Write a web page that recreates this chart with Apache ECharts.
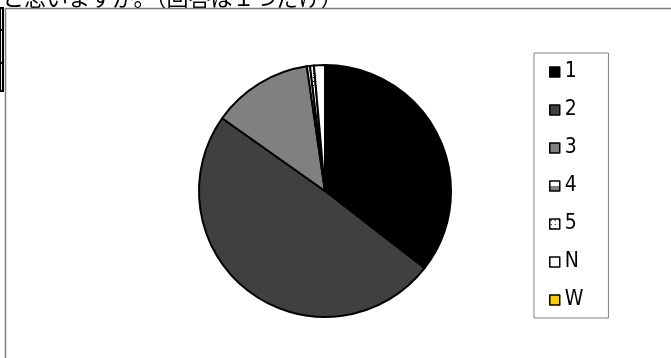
<!DOCTYPE html>
<html>
<head>
<meta charset="utf-8">
<script src="https://cdn.jsdelivr.net/npm/echarts@6/dist/echarts.min.js"></script>
<style>
  html, body { margin: 0; padding: 0; background: #fff; }
  #main { width: 671px; height: 358px; }
</style>
</head>
<body>
<div id="main"></div>
<script>
// 回答の区分と割合(%)
var categories = ['1', '2', '3', '4', '5', 'N', 'W'];
var values = [35.5, 49.3, 12.9, 0.4, 0.5, 1.4, 0];
var titleText = 'ると思いますか。（回答は１つだけ）';

// 5 の点模様
var dots = document.createElement('canvas');
dots.width = 4;
dots.height = 4;
var ctx = dots.getContext('2d');
ctx.fillStyle = '#fff';
ctx.fillRect(0, 0, 4, 4);
ctx.fillStyle = '#000';
ctx.fillRect(1, 1, 1, 1);

var colors = [
  '#000000',
  '#404040',
  '#808080',
  {
    type: 'linear', x: 0, y: 0, x2: 0, y2: 1,
    colorStops: [
      { offset: 0, color: '#ffffff' },
      { offset: 0.5, color: '#ffffff' },
      { offset: 0.5, color: '#808080' },
      { offset: 1, color: '#808080' }
    ]
  },
  { image: dots, repeat: 'repeat' },
  '#ffffff',
  '#ffcc00'
];

var myChart = echarts.init(document.getElementById('main'));

var data = [];
for (var i = 0; i < categories.length; i++) {
  data.push({
    name: categories[i],
    value: values[i],
    itemStyle: { color: colors[i] }
  });
}

var option = {
  animation: false,
  backgroundColor: '#ffffff',
  graphic: [
    {
      type: 'text',
      left: -20,
      top: -13,
      style: {
        text: titleText,
        fill: '#000',
        font: '22px "Noto Sans CJK JP"'
      }
    },
    // グラフエリアの枠
    {
      type: 'polyline',
      shape: { points: [[5.5, 358], [5.5, 8.5], [671, 8.5]] },
      style: { stroke: '#808080', lineWidth: 1.5, fill: null }
    },
    // 左上のセル
    {
      type: 'rect',
      shape: { x: 0, y: 8, width: 3, height: 83 },
      style: { fill: '#cfeeee', stroke: '#000', lineWidth: 2 }
    },
    {
      type: 'polyline',
      shape: { points: [[0, 30], [3, 30]] },
      style: { stroke: '#000', lineWidth: 2 }
    },
    {
      type: 'polyline',
      shape: { points: [[0, 63], [3, 63]] },
      style: { stroke: '#000', lineWidth: 2 }
    }
  ],
  legend: {
    orient: 'vertical',
    left: 534,
    top: 53,
    padding: [5.5, 25, 4.5, 15],
    itemGap: 11,
    itemWidth: 10,
    itemHeight: 10,
    icon: 'rect',
    borderColor: '#808080',
    borderWidth: 1,
    selectedMode: false,
    itemStyle: { borderColor: '#000', borderWidth: 1.5 },
    textStyle: {
      color: '#000',
      fontSize: 21,
      lineHeight: 20,
      fontFamily: '"DejaVu Sans Condensed", "Liberation Sans Narrow", "Liberation Sans", sans-serif',
      padding: [7, 0, 0, 0]
    },
    data: categories
  },
  series: [
    {
      type: 'pie',
      center: [325, 191],
      radius: [0, 126],
      startAngle: 90,
      clockwise: true,
      silent: true,
      label: { show: false },
      labelLine: { show: false },
      itemStyle: { borderColor: '#000', borderWidth: 2 },
      data: data
    }
  ]
};

option && myChart.setOption(option);
</script>
</body>
</html>
